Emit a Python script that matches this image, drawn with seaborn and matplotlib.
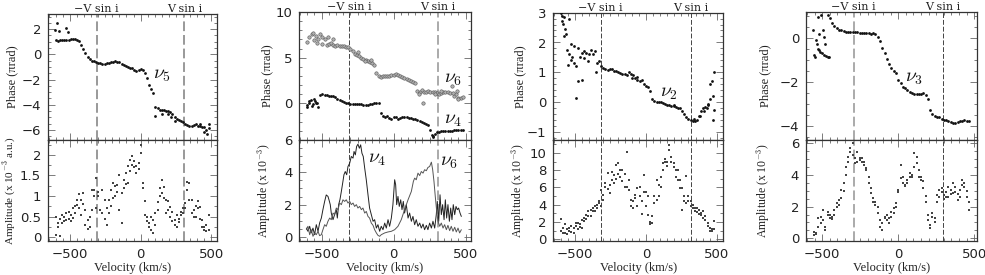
import matplotlib
matplotlib.use("Agg")
import matplotlib.pyplot as plt
from matplotlib.ticker import MultipleLocator, FixedLocator, FuncFormatter
import seaborn as sns
import numpy as np

nan = np.nan

# common velocity grid (km/s) for the phase and amplitude scans
velocity = [-600, -585, -570, -555, -540, -525, -510, -495, -480, -465,
            -450, -435, -420, -405, -390, -375, -360, -345, -330, -315,
            -300, -285, -270, -255, -240, -225, -210, -195, -180, -165,
            -150, -135, -120, -105, -90, -75, -60, -45, -30, -15,
            0, 15, 30, 45, 60, 75, 90, 105, 120, 135,
            150, 165, 180, 195, 210, 225, 240, 255, 270, 285,
            300, 315, 330, 345, 360, 375, 390, 405, 420, 435,
            450, 465, 480]

# ---- nu5 ----
nu5_phase = [1.1, 1.08, 1.15, 1.1, 1.15, 1.16, 1.12, 1.18, 1.2, 1.2,
             1.15, 1.05, 0.75, 0.45, 0.1, -0.25, -0.4, -0.5, -0.55, -0.6,
             -0.65, -0.72, -0.75, -0.78, -0.72, -0.65, -0.6, -0.58, -0.55, -0.58,
             -0.62, -0.78, -0.85, -0.9, -0.98, -1.05, -1.12, -1.25, -1.35, -1.25,
             -1.2, -1.25, -1.5, -1.9, -2.4, -2.75, -3.05, -4.2, -4.3, -4.4,
             -4.45, -4.45, -4.5, -4.5, -4.6, -4.75, -5.0, -5.1, -5.2, -5.3,
             -5.4, -5.5, -5.6, -5.65, -5.7, -5.6, -5.55, -5.65, -5.7, -5.75,
             -5.8, -6.0, -5.85]
nu5_extra_v = [-603, -588, -575, -527, -515, 100, 150, 190, 215, 240, 420, 450, 470, 480]
nu5_extra_p = [1.95, 2.5, 1.85, 2.05, 1.75, -4.9, -4.7, -4.75, -5.0, -5.3, -5.5, -6.2, -6.3, -5.5]
nu5_amp_a = [0.5, 0.26, 0.02, 0.34, 0.5, 0.42, 0.62, 0.54, 0.46, 0.58,
             0.79, 0.7, 0.9, 1.07, 0.66, 0.42, 0.26, 0.66, 1.15, 1.43,
             0.99, 0.66, 1.15, 0.9, 0.7, 0.58, 1.15, 1.31, 0.99, 1.27,
             1.51, 1.07, 1.39, 1.55, 1.72, 1.88, 1.96, 1.84, 1.72, 1.8,
             2.04, 1.31, 0.87, 0.5, 0.34, 0.18, 0.42, 0.58, 0.66, 0.99,
             1.07, 1.23, 0.9, 0.66, 0.74, 0.62, 0.42, 0.26, 0.38, 0.54,
             0.7, 0.83, 1.15, 1.31, 0.9, 0.66, 0.5, 0.7, 0.74, 0.42,
             0.26, 0.3, 0.18]
nu5_amp_b = [0.05, 0.35, 0.45, 0.55, 0.4, 0.6, 0.45, 0.4, 0.7, 0.75,
             0.9, 1.05, 0.55, 0.8, 0.3, 0.2, 0.5, 1.15, 1.0, 0.7,
             1.1, 0.65, 0.6, 0.45, 0.3, 0.9, 0.75, 0.95, 1.25, 1.1,
             0.66, 0.34, 1.2, 1.3, 1.31, 1.6, 1.75, 1.7, 1.55, 1.65,
             2.24, 1.2, 0.55, 0.4, 0.25, 0.5, 0.1, 0.3, 0.85, 1.2,
             1.4, 0.95, 0.6, 0.87, 0.5, 0.4, 0.3, 0.55, 0.45, 0.62,
             0.6, 0.7, 1.35, 0.9, 0.6, 0.5, 0.75, 0.87, 0.45, 0.26,
             0.18, 0.15, 0.55]

# ---- nu6 / nu4 ----
nu6_phase = [6.7, 7.25, 7.6, 6.9, 7.4, 7.1, 7.6, 6.5, 7.1, 6.4,
             6.5, 6.6, 6.36, 6.3, 6.36, 6.3, 6.25, 6.3, 6.2, 6.2,
             6.0, 5.7, 5.46, 5.3, 5.15, 4.95, 4.9, 4.8, 4.6, 4.5,
             4.4, 4.25, 3.3, 3.0, 2.9, 2.95, 3.05, 2.96, 3.0, 3.1,
             3.15, 3.2, 3.14, 3.0, 2.86, 2.75, 2.65, 2.55, 2.45, 2.35,
             2.25, 1.4, 1.3, 1.5, 1.3, 1.2, 1.35, 1.25, 1.3, 1.2,
             1.1, 1.05, 1.15, 1.2, 1.3, 1.25, 1.15, 1.9, 0.82, 1.0,
             0.6, 0.64, 0.7]
nu6_extra_v = [-560, -530, -500, -455, -420, -250, -200, -160, 175, 205, 290, 330, 410, 440, 450]
nu6_extra_p = [7.7, 6.6, 7.3, 7.25, 7.1, 5.6, 4.6, 4.75, 1.0, 0.1, 1.0, 1.35, 1.1, 1.4, 0.5]
nu4_phase = [-0.43, 0.29, -0.25, 0.46, 0.1, -0.43, 0.93, 1.0, 0.95, 0.9,
             0.85, 0.82, 0.78, 0.7, 0.5, 0.4, 0.3, 0.15, 0.08, 0.0,
             -0.05, -0.07, -0.07, -0.08, -0.08, -0.1, -0.12, -0.14, -0.12, -0.1,
             -0.05, 0.05, 0.1, 0.05, -1.0, -1.4, -1.5, -1.35, -1.6, -1.7,
             -1.5, -1.45, -1.65, -1.55, -1.45, -1.45, -1.5, -1.55, -1.6, -1.7,
             -1.75, -1.85, -1.9, -2.0, -2.1, -2.2, -2.4, -2.9, -3.6, -3.3,
             -3.15, -3.1, -3.05, -3.0, -3.0, -3.0, -3.0, -2.98, -2.95, -2.95,
             -2.93, -2.93, -2.95]
nu4_extra_v = [-605, -590, -575, -560, -548, -530, 265, 275]
nu4_extra_p = [-0.2, 0.0, 0.35, -0.1, 0.25, 0.1, -3.4, -3.7]

nu4_line_v = [-606, -595, -583, -572, -560, -549, -537, -525, -514, -502,
              -491, -479, -468, -456, -449, -440, -433, -421, -410, -398,
              -391, -382, -373, -363, -352, -345, -336, -326, -317, -305,
              -294, -282, -275, -266, -257, -248, -238, -229, -220, -211,
              -201, -190, -178, -167, -155, -143, -132, -120, -109, -97,
              -86, -74, -62, -51, -39, -28, -16, -5, 7, 14,
              21, 30, 39, 49, 58, 67, 76, 88, 100, 111,
              123, 134, 146, 157, 169, 181, 192, 204, 215, 227,
              238, 250, 262, 273, 285, 296, 303, 313, 322, 331,
              340, 350, 359, 368, 377, 387, 396, 405, 414, 424,
              433, 442, 451, 461, 470]
nu4_line_a = [0.55, 0.35, 0.66, 0.25, 0.55, 0.14, 0.76, 0.35, 0.86, 1.17,
              1.69, 2.2, 2.6, 2.51, 2.3, 2.0, 1.48, 1.07, 1.38, 1.69,
              1.17, 2.0, 2.3, 2.82, 3.44, 3.85, 4.05, 3.85, 4.36, 4.57,
              4.98, 4.88, 5.29, 5.08, 5.6, 5.74, 5.49, 5.7, 5.18, 4.98,
              4.26, 3.54, 2.61, 1.79, 1.38, 0.97, 1.07, 0.55, 0.76, 0.35,
              0.66, 0.45, 0.86, 0.55, 1.07, 0.66, 1.17, 2.0, 3.54, 3.23,
              2.0, 2.51, 1.89, 2.3, 1.69, 2.2, 1.48, 2.0, 1.17, 1.48,
              0.97, 1.27, 0.76, 1.07, 0.66, 0.86, 0.55, 0.8, 0.45, 0.72,
              0.45, 0.86, 0.55, 0.97, 0.55, 1.38, 2.2, 0.97, 2.61, 1.38,
              2.0, 1.07, 2.3, 1.17, 2.0, 0.97, 1.79, 1.07, 2.0, 1.38,
              1.89, 1.69, 1.79, 1.48, 1.27]
nu6_line_v = [-606, -595, -583, -572, -560, -549, -537, -525, -514, -502,
              -491, -479, -468, -456, -444, -433, -421, -410, -398, -386,
              -375, -363, -352, -340, -329, -317, -305, -294, -282, -271,
              -259, -248, -236, -224, -213, -201, -190, -178, -167, -155,
              -143, -132, -120, -109, -97, -86, -62, -39, -16, 7,
              30, 53, 76, 100, 123, 137, 146, 157, 169, 181,
              192, 204, 215, 227, 238, 250, 262, 271, 280, 289,
              299, 308, 320, 331, 343, 354, 366, 377, 389, 400,
              412, 424, 435, 447, 458, 470]
nu6_line_a = [0.45, 0.66, 0.14, 0.45, 0.04, 0.25, 0.14, 0.35, 0.08, 0.14,
              0.45, 0.76, 0.66, 0.97, 1.17, 1.07, 1.48, 1.38, 1.79, 1.69,
              2.1, 2.0, 2.3, 2.2, 2.3, 2.1, 2.2, 2.0, 2.1, 1.89,
              2.0, 1.79, 1.89, 1.69, 1.79, 1.48, 1.58, 1.27, 1.17, 0.86,
              0.72, 0.45, 0.25, 0.1, 0.04, 0.14, 0.25, 0.31, 0.35, 0.45,
              0.66, 1.07, 1.69, 2.3, 2.82, 3.44, 3.64, 3.54, 3.95, 3.8,
              4.05, 3.95, 4.16, 4.1, 4.3, 4.36, 4.63, 4.16, 3.44, 2.51,
              1.58, 0.97, 0.66, 0.86, 0.55, 0.76, 0.45, 0.72, 0.39, 0.66,
              0.35, 0.6, 0.31, 0.55, 0.25, 0.45]

# ---- nu2 ----
nu2_phase = [2.98, 2.6, 2.45, 1.76, 1.6, 1.4, 1.87, 1.2, 1.8, 1.53,
             1.65, 1.48, 1.64, 1.37, 1.76, 1.6, 1.7, 1.31, 1.37, 1.2,
             1.14, 1.1, 1.08, 1.12, 1.1, 1.06, 1.04, 1.0, 0.98, 0.96,
             0.94, 0.92, 1.0, 0.95, 0.92, 0.8, 0.74, 0.7, 0.74, 0.62,
             0.55, 0.5, 0.37, 0.1, 0.05, 0.03, 0.02, 0.0, -0.03, -0.06,
             -0.08, -0.1, -0.12, -0.13, -0.15, -0.19, -0.2, -0.3, -0.38, -0.5,
             -0.56, -0.6, -0.63, -0.62, -0.6, -0.45, -0.3, -0.2, -0.15, -0.1,
             0.1, 0.7, -0.25]
nu2_extra_v = [-595, -590, -580, -575, -565, -550, -545, -530, -520, -505,
               -494, -478, -454, -440, -400, -353, -100, -60, 200, 340,
               385, 410, 430, 440, 455, 470, 475, 480]
nu2_extra_p = [2.7, 2.9, 2.85, 2.2, 2.3, 1.25, 2.8, 1.95, 1.5, 1.3,
               0.14, 0.7, 0.76, 1.7, 1.6, 1.03, 0.8, 0.85, -0.1, -0.55,
               -0.45, -0.3, -0.2, -0.05, 0.6, 0.2, -0.6, 1.0]
nu2_amp_a = [2.37, 1.34, 1.72, 1.15, 0.95, 1.53, 1.34, 1.53, 1.15, 1.72,
             1.34, 2.1, 2.86, 3.24, 2.67, 3.24, 3.9, 3.63, 4.39, 5.73,
             5.15, 6.1, 7.63, 5.34, 6.87, 6.49, 8.59, 8.78, 8.0, 8.0,
             7.52, 10.1, 6.87, 3.82, 4.39, 5.15, 5.92, 4.96, 4.39, 7.44,
             3.82, 4.96, 1.72, 2.67, 4.96, 6.87, 4.96, 7.25, 8.78, 9.35,
             8.97, 10.3, 9.54, 8.4, 7.25, 8.0, 6.87, 5.92, 4.96, 4.2,
             4.96, 3.82, 4.0, 3.24, 3.63, 3.44, 3.05, 3.24, 2.67, 1.9,
             1.34, 1.15, 1.15]
nu2_amp_b = [0.95, 0.7, 0.76, 0.57, 1.3, 0.9, 0.76, 1.9, 1.9, 1.4,
             2.29, 2.5, 2.4, 2.67, 3.44, 3.6, 3.3, 4.0, 4.2, 3.9,
             4.58, 6.49, 5.8, 6.3, 7.82, 7.4, 7.0, 7.6, 7.25, 6.8,
             6.0, 6.1, 5.73, 4.6, 3.6, 4.8, 3.82, 6.1, 2.9, 5.53,
             5.53, 2.86, 2.0, 1.9, 4.2, 4.5, 6.3, 6.0, 8.0, 8.97,
             8.5, 10.9, 8.9, 8.78, 8.0, 6.87, 5.92, 3.44, 4.4, 7.3,
             4.39, 4.4, 3.6, 3.63, 3.2, 2.9, 2.86, 2.5, 2.2, 1.53,
             1.0, 0.95, 2.1]

# ---- nu3 ----
nu3_phase = [nan, nan, nan, nan, nan, nan, nan, nan, nan, 1.03,
             0.92, 0.68, 0.53, 0.45, 0.38, 0.35, 0.31, 0.29, 0.27, 0.26,
             0.26, 0.25, 0.25, 0.24, 0.24, 0.23, 0.22, 0.23, 0.2, 0.24,
             0.18, 0.03, -0.15, -0.45, -0.7, -0.98, -1.2, -1.38, -1.5, -1.62,
             -1.9, -2.05, -2.22, -2.29, -2.38, -2.45, -2.5, -2.55, -2.56, -2.57,
             -2.55, -2.53, -2.58, -2.8, -3.3, -3.48, -3.55, -3.58, -3.62, -3.7,
             -3.74, -3.76, -3.78, -3.83, -3.87, -3.88, -3.84, -3.8, -3.77, -3.76,
             -3.77, -3.77, nan]
nu3_extra_v = [-559, -553, -546, -542, -535, -531, -531, -520, -520, -513,
               -509, -504, -498, -491, -487, -482, -476, -465, -454]
nu3_extra_p = [0.35, -0.78, -0.85, -0.11, -0.26, 0.95, -0.5, 0.2, -0.56, -0.63,
               1.03, -0.71, 0.35, -0.78, 0.05, -0.26, -0.83, -0.89, -0.89]
nu3_amp_a = [nan, nan, nan, 0.21, 0.32, 0.74, 0.95, 1.79, 0.53, 1.47,
             1.26, 1.37, 1.79, 2.0, 2.42, 2.53, 3.47, 4.0, 4.84, 5.47,
             6.0, 4.74, 5.47, 5.05, 5.05, 4.84, 4.42, 3.89, 3.16, 2.53,
             2.32, 2.0, 1.16, 0.53, 1.37, 1.47, 0.95, 1.37, 1.89, 2.21,
             3.05, 3.79, 3.89, 3.37, 3.68, 3.89, 3.89, 4.53, 5.16, 4.32,
             3.68, 3.16, 2.32, 1.47, 0.63, 1.37, 1.26, 2.32, 3.05, 2.95,
             2.74, 2.95, 3.26, 3.05, 3.47, 3.26, 2.42, 3.05, 3.37, 3.26,
             2.63, 1.79, nan]
nu3_amp_b = [nan, nan, nan, 0.42, 0.3, 1.26, 1.37, 1.16, 0.74, 1.68,
             1.47, 1.2, 1.5, 2.21, 2.1, 3.05, 3.0, 4.53, 5.16, 5.68,
             5.26, 5.05, 4.8, 4.95, 4.84, 4.6, 4.32, 3.5, 2.84, 2.32,
             2.1, 1.58, 0.74, 0.95, 1.26, 1.16, 1.3, 1.68, 1.6, 2.0,
             2.9, 4.63, 3.47, 3.3, 3.5, 4.11, 4.0, 5.37, 4.74, 3.89,
             3.9, 3.6, 2.7, 1.16, 0.84, 1.58, 1.0, 2.74, 2.6, 3.16,
             2.5, 2.6, 2.63, 2.8, 2.84, 2.9, 2.8, 2.6, 3.68, 3.5,
             3.0, 2.3, nan]

vsini = [310, 308, 318, 293]

# ---------------------------------------------------------------- layout
W, H = 985, 275
lefts = [48, 299.3, 553.3, 806]
rights = [217, 470.7, 723.3, 976.7]
tops = [14, 12, 12.5, 12]
mid, bot = 140, 241
xlims = [(-655, 540), (-655, 535), (-653, 546), (-607, 516)]
phase_ylims = [(-6.8, 3.2), (-4, 10), (-1.25, 3.0), (-4.65, 1.18)]
amp_ylims = [(-0.09, 2.36), (-0.25, 6.0), (-0.2, 11.5), (-0.17, 6.21)]
phase_ticks = [(2, 0.5), (5, 1), (1, 0.2), (2, 0.5)]
amp_ticks = [(0.5, 0.25), (2, 0.5), (2, 1), (2, 0.5)]
ylabel_x = [-0.175, -0.153, -0.156, -0.201]
amp_labels = ['Amplitude (x 10$^{-3}$ a.u.)', 'Amplitude (x 10$^{-3}$)',
              'Amplitude (x 10$^{-3}$)', 'Amplitude (x 10$^{-3}$)']
amp_label_size = [8, 8.5, 8.5, 8.5]
dash_cols = [('#999999', '#999999'), ('#444444', '#aaaaaa'),
             ('#444444', '#444444'), ('#aaaaaa', '#444444')]

sns.set_theme(style='ticks')
plt.rcParams['font.family'] = ['DejaVu Sans']
plt.rcParams['mathtext.fontset'] = 'cm'

SERIF = 'Liberation Serif'


def rect(l, r, t, b):
    return [l / W, 1 - b / H, (r - l) / W, (b - t) / H]


def fmt(v, pos):
    s = f'{v:g}'
    if s == '-0':
        s = '0'
    return s.replace('-', '\u2212')


def style_axis(ax, xlim, ylim, ymaj, ymin, show_x):
    ax.set_xlim(*xlim)
    ax.set_ylim(*ylim)
    ax.xaxis.set_major_locator(FixedLocator([-500, 0, 500]))
    ax.xaxis.set_minor_locator(MultipleLocator(50))
    ax.yaxis.set_major_locator(MultipleLocator(ymaj))
    ax.yaxis.set_minor_locator(MultipleLocator(ymin))
    ax.xaxis.set_major_formatter(FuncFormatter(fmt))
    ax.yaxis.set_major_formatter(FuncFormatter(fmt))
    ax.tick_params(which='both', direction='in', top=True, right=True,
                   color='#666666', width=0.6, labelsize=9.5,
                   labelcolor='#222222', pad=5)
    ax.tick_params(which='major', length=5)
    ax.tick_params(which='minor', length=2.5)
    if not show_x:
        ax.tick_params(axis='x', labelbottom=False)
    for sp in ax.spines.values():
        sp.set_linewidth(0.9)
        sp.set_color('#333333')
    ax.set_facecolor('white')


def dashes(ax, i):
    v = vsini[i]
    for x, c in zip((-v, v), dash_cols[i]):
        lw = 1.4 if c in ('#999999', '#aaaaaa') else 0.7
        ax.axvline(x, color=c, lw=lw, ls=(0, (5, 2)), zorder=1)


fig = plt.figure(figsize=(9.85, 2.75), dpi=100)

axes_top, axes_bot = [], []
for i in range(4):
    at = fig.add_axes(rect(lefts[i], rights[i], tops[i], mid))
    ab = fig.add_axes(rect(lefts[i], rights[i], mid, bot))
    style_axis(at, xlims[i], phase_ylims[i], *phase_ticks[i], show_x=False)
    style_axis(ab, xlims[i], amp_ylims[i], *amp_ticks[i], show_x=True)
    dashes(at, i)
    dashes(ab, i)
    at.set_ylabel('Phase (\u03c0rad)', family=SERIF, fontsize=9, color='#222222')
    ab.set_ylabel(amp_labels[i], family=SERIF, fontsize=amp_label_size[i],
                  color='#222222')
    at.yaxis.set_label_coords(ylabel_x[i], 0.5)
    ab.yaxis.set_label_coords(ylabel_x[i], 0.5)
    ab.set_xlabel('Velocity (km/s)', family=SERIF, fontsize=9,
                  color='#222222', labelpad=1)
    for x, lab in ((-vsini[i], '\u2212V sin i'), (vsini[i], 'V sin i')):
        at.annotate(lab, xy=(x, 1.0), xycoords=('data', 'axes fraction'),
                    xytext=(0, 1.2), textcoords='offset points',
                    ha='center', va='baseline', family='DejaVu Serif',
                    fontsize=8, color='#222222', annotation_clip=False)
    axes_top.append(at)
    axes_bot.append(ab)

dot = dict(s=4, color='#111111', linewidth=0, legend=False, zorder=3)
adot = dict(s=3, color='#444444', marker='s', linewidth=0, legend=False, zorder=3)
gdot = dict(s=6, color='#b0b0b0', edgecolor='#555555', linewidth=0.4,
            legend=False, zorder=3)

# panel 1 : nu5
sns.scatterplot(x=velocity, y=nu5_phase, ax=axes_top[0], **dot)
sns.scatterplot(x=nu5_extra_v, y=nu5_extra_p, ax=axes_top[0], **dot)
sns.scatterplot(x=velocity, y=nu5_amp_a, ax=axes_bot[0], **adot)
sns.scatterplot(x=velocity, y=nu5_amp_b, ax=axes_bot[0], **adot)
axes_top[0].text(85, -1.95, r'$\nu_5$', fontsize=14, color='#111111')

# panel 2 : nu6 and nu4
sns.scatterplot(x=velocity, y=nu6_phase, ax=axes_top[1], **gdot)
sns.scatterplot(x=nu6_extra_v, y=nu6_extra_p, ax=axes_top[1], **gdot)
sns.scatterplot(x=velocity, y=nu4_phase, ax=axes_top[1], **dot)
sns.scatterplot(x=nu4_extra_v, y=nu4_extra_p, ax=axes_top[1], **dot)
axes_top[1].text(350, 2.3, r'$\nu_6$', fontsize=14, color='#111111')
axes_top[1].text(350, -2.2, r'$\nu_4$', fontsize=14, color='#111111')
sns.lineplot(x=nu4_line_v, y=nu4_line_a, ax=axes_bot[1], color='#222222',
             lw=0.7, estimator=None, sort=False, zorder=3)
sns.lineplot(x=nu6_line_v, y=nu6_line_a, ax=axes_bot[1], color='#555555',
             lw=0.7, estimator=None, sort=False, zorder=3)
axes_bot[1].text(-180, 4.6, r'$\nu_4$', fontsize=14, color='#111111')
axes_bot[1].text(325, 4.4, r'$\nu_6$', fontsize=14, color='#111111')

# panel 3 : nu2
sns.scatterplot(x=velocity, y=nu2_phase, ax=axes_top[2], **dot)
sns.scatterplot(x=nu2_extra_v, y=nu2_extra_p, ax=axes_top[2], **dot)
sns.scatterplot(x=velocity, y=nu2_amp_a, ax=axes_bot[2], **adot)
sns.scatterplot(x=velocity, y=nu2_amp_b, ax=axes_bot[2], **adot)
axes_top[2].text(100, 0.2, r'$\nu_2$', fontsize=14, color='#111111')

# panel 4 : nu3
sns.scatterplot(x=velocity, y=nu3_phase, ax=axes_top[3], **dot)
sns.scatterplot(x=nu3_extra_v, y=nu3_extra_p, ax=axes_top[3], **dot)
sns.scatterplot(x=velocity, y=nu3_amp_a, ax=axes_bot[3], **adot)
sns.scatterplot(x=velocity, y=nu3_amp_b, ax=axes_bot[3], **adot)
axes_top[3].text(45, -2.0, r'$\nu_3$', fontsize=14, color='#111111')

fig.savefig('out.png', dpi=100, facecolor='white')
